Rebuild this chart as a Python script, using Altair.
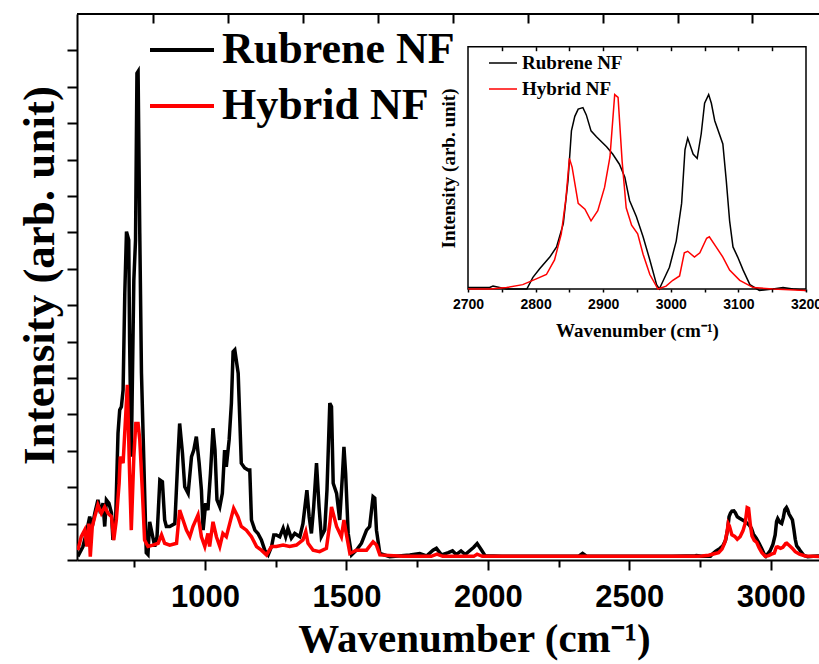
import altair as alt
import pandas as pd

# ---------------- data ----------------
series = ["Rubrene NF", "Hybrid NF"]
series_colors = ["black", "red"]

rubrene = [
    (550, 0.10), (568, 0.37), (580, 0.74), (592, 1.19), (601, 0.92), (610, 1.29), (621, 1.65),
    (630, 1.29), (639, 1.56), (645, 0.92), (651, 1.65), (660, 1.56), (669, 1.29), (674, 0.55),
    (684, 1.19), (692, 3.48), (698, 4.12), (704, 4.21), (710, 4.67), (716, 7.33), (722, 9.02),
    (730, 8.79), (733, 6.04), (739, 2.84), (748, 7.69), (754, 8.79), (759, 13.37), (763, 13.42),
    (769, 8.97), (775, 5.13), (786, 1.92), (792, 0.20), (798, 0.15), (804, 1.05), (810, 0.82),
    (822, 0.37), (830, 0.64), (840, 2.20), (849, 2.15), (857, 1.10), (863, 0.92), (875, 0.92),
    (893, 1.00), (904, 2.84), (910, 3.75), (920, 2.93), (928, 2.01), (940, 1.83), (952, 2.84),
    (960, 3.02), (969, 3.39), (979, 2.66), (987, 1.92), (993, 0.82), (1002, 1.56), (1010, 1.37),
    (1019, 2.38), (1028, 3.62), (1035, 3.02), (1042, 1.65), (1052, 1.46), (1061, 1.83), (1069, 3.02),
    (1075, 2.56), (1085, 3.30), (1093, 4.31), (1099, 5.72), (1105, 5.77), (1117, 5.13), (1128, 2.66),
    (1140, 2.53), (1152, 2.47), (1158, 2.47), (1164, 1.10), (1176, 0.82), (1187, 0.73), (1199, 0.55),
    (1211, 0.27), (1223, 0.14), (1235, 0.37), (1243, 0.69), (1252, 0.69), (1264, 0.64), (1276, 0.87),
    (1285, 0.64), (1293, 0.87), (1305, 0.60), (1317, 0.73), (1335, 0.64), (1346, 1.00), (1360, 1.92),
    (1368, 1.19), (1376, 0.73), (1384, 1.46), (1394, 2.66), (1403, 1.46), (1411, 0.64), (1423, 0.82),
    (1431, 1.92), (1441, 4.31), (1447, 4.21), (1453, 2.11), (1465, 1.83), (1476, 1.10), (1486, 2.38),
    (1491, 3.11), (1497, 2.38), (1506, 0.73), (1518, 0.14), (1535, 0.27), (1553, 0.46), (1571, 0.82),
    (1582, 0.92), (1594, 1.74), (1600, 1.70), (1606, 0.82), (1618, 0.18), (1653, 0.09), (1724, 0.14),
    (1759, 0.18), (1783, 0.11), (1806, 0.27), (1818, 0.32), (1836, 0.14), (1860, 0.20), (1875, 0.25),
    (1888, 0.15), (1905, 0.25), (1920, 0.15), (1950, 0.35), (1962, 0.45), (1975, 0.30), (1990, 0.12),
    (2050, 0.10), (2200, 0.10), (2320, 0.10), (2335, 0.18), (2350, 0.10), (2500, 0.10), (2650, 0.10),
    (2700, 0.11), (2732, 0.11), (2737, 0.12), (2757, 0.10), (2781, 0.10), (2787, 0.10), (2796, 0.18),
    (2806, 0.24), (2821, 0.32), (2831, 0.39), (2841, 0.55), (2848, 0.85), (2853, 1.19), (2858, 1.29),
    (2863, 1.34), (2870, 1.35), (2875, 1.30), (2882, 1.19), (2890, 1.15), (2905, 1.08), (2914, 1.03),
    (2924, 0.96), (2932, 0.87), (2939, 0.71), (2949, 0.60), (2959, 0.46), (2969, 0.30), (2979, 0.13),
    (2983, 0.10), (2988, 0.15), (2998, 0.25), (3008, 0.43), (3016, 0.69), (3021, 1.06), (3025, 1.14),
    (3033, 1.03), (3039, 1.00), (3045, 1.17), (3050, 1.38), (3056, 1.44), (3060, 1.38), (3065, 1.26),
    (3077, 1.10), (3082, 0.85), (3087, 0.57), (3092, 0.39), (3099, 0.32), (3107, 0.23), (3117, 0.13),
    (3131, 0.09), (3151, 0.10), (3166, 0.11), (3181, 0.10), (3200, 0.09),
]

hybrid = [
    (550, 0.27), (562, 0.64), (574, 0.82), (582, 0.37), (589, 1.00), (594, 0.09), (601, 0.92),
    (610, 1.19), (621, 1.51), (633, 1.28), (645, 1.46), (657, 1.28), (669, 1.19), (677, 0.55),
    (686, 1.10), (696, 2.11), (700, 2.84), (710, 2.66), (719, 3.94), (725, 4.81), (733, 2.38),
    (739, 0.82), (748, 2.84), (755, 3.75), (763, 3.75), (769, 3.30), (778, 1.92), (786, 0.55),
    (798, 0.37), (816, 0.41), (834, 0.46), (846, 0.69), (857, 0.46), (875, 0.41), (899, 0.46),
    (910, 1.37), (922, 1.10), (934, 0.82), (946, 0.64), (957, 0.92), (975, 1.24), (987, 0.64),
    (999, 0.37), (1010, 0.73), (1016, 0.37), (1028, 1.05), (1040, 0.64), (1052, 0.37), (1063, 0.73),
    (1075, 0.64), (1087, 1.00), (1101, 1.42), (1116, 1.19), (1128, 0.92), (1146, 0.82), (1164, 0.64),
    (1182, 0.37), (1199, 0.27), (1217, 0.14), (1235, 0.37), (1252, 0.37), (1276, 0.41), (1299, 0.37),
    (1323, 0.41), (1346, 0.55), (1356, 0.78), (1364, 0.46), (1382, 0.27), (1405, 0.23), (1429, 0.32),
    (1441, 1.00), (1447, 1.46), (1453, 1.28), (1465, 0.92), (1482, 0.64), (1491, 1.10), (1497, 0.82),
    (1512, 0.18), (1535, 0.27), (1571, 0.27), (1594, 0.50), (1606, 0.41), (1618, 0.14), (1700, 0.10),
    (1800, 0.10), (1820, 0.16), (1840, 0.10), (1950, 0.10), (1962, 0.16), (1980, 0.10), (2300, 0.10),
    (2650, 0.10),
    (2700, 0.10), (2732, 0.10), (2757, 0.11), (2781, 0.13), (2801, 0.17), (2816, 0.20), (2828, 0.30),
    (2838, 0.48), (2845, 0.73), (2850, 1.00), (2854, 0.94), (2863, 0.69), (2873, 0.65), (2882, 0.57),
    (2892, 0.64), (2902, 0.80), (2910, 1.01), (2917, 1.44), (2922, 1.42), (2928, 0.98), (2934, 0.66),
    (2942, 0.54), (2951, 0.48), (2959, 0.34), (2969, 0.20), (2981, 0.10), (2993, 0.12), (3003, 0.16),
    (3013, 0.19), (3020, 0.35), (3025, 0.36), (3035, 0.32), (3043, 0.35), (3053, 0.45), (3057, 0.46),
    (3067, 0.39), (3077, 0.32), (3087, 0.23), (3102, 0.16), (3122, 0.11), (3151, 0.10), (3200, 0.09),
]

main_major_ticks = [1000, 1500, 2000, 2500, 3000]
main_minor_ticks = [750, 1250, 1750, 2250, 2750]
main_top_ticks = [815, 1081, 1346, 1612, 1876, 2142, 2408, 2673, 2935]
main_y_ticks = list(range(0, 15))
inset_ticks = [2700, 2750, 2800, 2850, 2900, 2950, 3000, 3050, 3100, 3150, 3200]
inset_top_ticks = [2750, 2800, 2850, 2900, 2950, 3000, 3050, 3100, 3150]

rows = []
for name, pts in zip(series, [rubrene, hybrid]):
    for wn, val in pts:
        rows.append({"wn": wn, "intensity": val, "sample": name})
df = pd.DataFrame(rows)

# ---------------- layout ----------------
W, H = 742, 546
SERIF = "Liberation Serif"
SANS = "Liberation Sans"

xs_main = alt.Scale(domain=[547, 3171], nice=False, zero=False)
ys_main = alt.Scale(domain=[0, 15], nice=False, zero=False)
xs_ins = alt.Scale(domain=[2700, 3200], range=[391, 729], nice=False, zero=False)
ys_ins = alt.Scale(domain=[0.1, 1.77], range=[275, 32.7], nice=False, zero=False)
color_scale = alt.Scale(domain=series, range=series_colors)

main = alt.Chart(df).mark_line(strokeWidth=3.5, clip=True).encode(
    x=alt.X("wn:Q", scale=xs_main, axis=alt.Axis(
        orient="bottom", values=main_major_ticks, format="d", labelFlush=False,
        tickSize=10, tickWidth=2, tickColor="black", domainWidth=2, domainColor="black",
        labelFont=SANS, labelFontWeight="bold", labelFontSize=31, labelColor="black",
        labelPadding=12, grid=False,
        title="Wavenumber (cm⁻¹)", titleFont=SERIF, titleFontWeight="bold",
        titleFontSize=41, titleColor="black", titleX=397, titleY=91,
        titleBaseline="alphabetic", titleAlign="center")),
    y=alt.Y("intensity:Q", scale=ys_main, axis=alt.Axis(
        orient="left", values=main_y_ticks, labels=False, tickSize=10, tickWidth=2,
        tickColor="black", domainWidth=2, domainColor="black", grid=False,
        title="Intensity (arb. unit)", titleFont=SERIF, titleFontWeight="bold",
        titleFontSize=45, titleColor="black", titleAngle=270, titleX=-24, titleY=261,
        titleBaseline="alphabetic", titleAlign="center")),
    color=alt.Color("sample:N", scale=color_scale, legend=alt.Legend(
        orient="none", legendX=71, legendY=2, title=None, symbolType="stroke",
        symbolSize=4096, symbolStrokeWidth=4, labelFont=SERIF, labelFontWeight="bold",
        labelFontSize=44, labelColor="black", labelLimit=600, labelOffset=6,
        rowPadding=-1, padding=0)),
)

main_minor = alt.Chart(df).mark_line(opacity=0).encode(
    x=alt.X("wn:Q", scale=xs_main, axis=alt.Axis(
        orient="bottom", values=main_minor_ticks, labels=False, domain=False,
        tickSize=7, tickWidth=2, tickColor="black", grid=False, title=None)),
    y=alt.Y("intensity:Q", scale=ys_main, axis=None),
)

main_top = alt.Chart(df).mark_line(opacity=0).encode(
    x=alt.X("wn:Q", scale=xs_main, axis=alt.Axis(
        orient="top", offset=-9, values=main_top_ticks, labels=False, domain=False,
        tickSize=9, tickWidth=2, tickColor="black", grid=False, title=None, zindex=1)),
    y=alt.Y("intensity:Q", scale=ys_main, axis=None),
)

one = alt.Data(values=[{"k": 1}])
top_border = alt.Chart(one).mark_rule(color="black", strokeWidth=2).encode(
    x=alt.value(0), x2=alt.value(W), y=alt.value(0))

inset_frame = alt.Chart(one).mark_rect(fillOpacity=0, stroke="black", strokeWidth=1.5).encode(
    x=alt.value(391), x2=alt.value(729), y=alt.value(32.7), y2=alt.value(275))

inset = alt.Chart(df).transform_filter("datum.wn >= 2700").mark_line(strokeWidth=1.5).encode(
    x=alt.X("wn:Q", scale=xs_ins, axis=alt.Axis(
        orient="bottom", offset=-271, values=inset_ticks, format="d", labelFlush=False,
        labelExpr="datum.value % 100 == 0 ? datum.label : ''",
        domain=False, tickSize=3, tickWidth=1.5, tickColor="black",
        labelFont=SANS, labelFontWeight="bold", labelFontSize=14, labelColor="black",
        labelPadding=5, grid=False, zindex=1,
        title="Wavenumber (cm⁻¹)", titleFont=SERIF, titleFontWeight="bold",
        titleFontSize=19, titleColor="black", titleX=560, titleY=47,
        titleBaseline="alphabetic", titleAlign="center")),
    y=alt.Y("intensity:Q", scale=ys_ins, axis=alt.Axis(
        orient="left", offset=-391, domain=False, ticks=False, labels=False, grid=False,
        title="Intensity (arb. unit)", titleFont=SERIF, titleFontWeight="bold",
        titleFontSize=19, titleColor="black", titleAngle=270, titleX=-14, titleY=154,
        titleBaseline="alphabetic", titleAlign="center", zindex=1)),
    color=alt.Color("sample:N", scale=color_scale, legend=alt.Legend(
        orient="none", legendX=411, legendY=34, title=None, symbolType="stroke",
        symbolSize=784, symbolStrokeWidth=1.5, labelFont=SERIF, labelFontWeight="bold",
        labelFontSize=19, labelColor="black", labelLimit=400, labelOffset=4,
        rowPadding=1, padding=0)),
)

inset_top = alt.Chart(df).transform_filter("datum.wn >= 2700").mark_line(opacity=0).encode(
    x=alt.X("wn:Q", scale=xs_ins, axis=alt.Axis(
        orient="top", offset=-36.7, values=inset_top_ticks, labels=False, domain=False,
        tickSize=4, tickWidth=1.5, tickColor="black", grid=False, title=None, zindex=1)),
    y=alt.Y("intensity:Q", scale=ys_ins, axis=None),
)

chart = alt.layer(
    main, main_minor, main_top, top_border, inset_frame, inset, inset_top
).resolve_scale(
    x="independent", y="independent", color="independent"
).properties(
    width=W, height=H,
    autosize=alt.AutoSizeParams(type="none"),
    padding={"left": 77, "top": 14, "right": 0, "bottom": 104},
    background="white",
).configure_view(stroke=None)

chart.save("out.html", embed_options={"renderer": "svg", "actions": False})
